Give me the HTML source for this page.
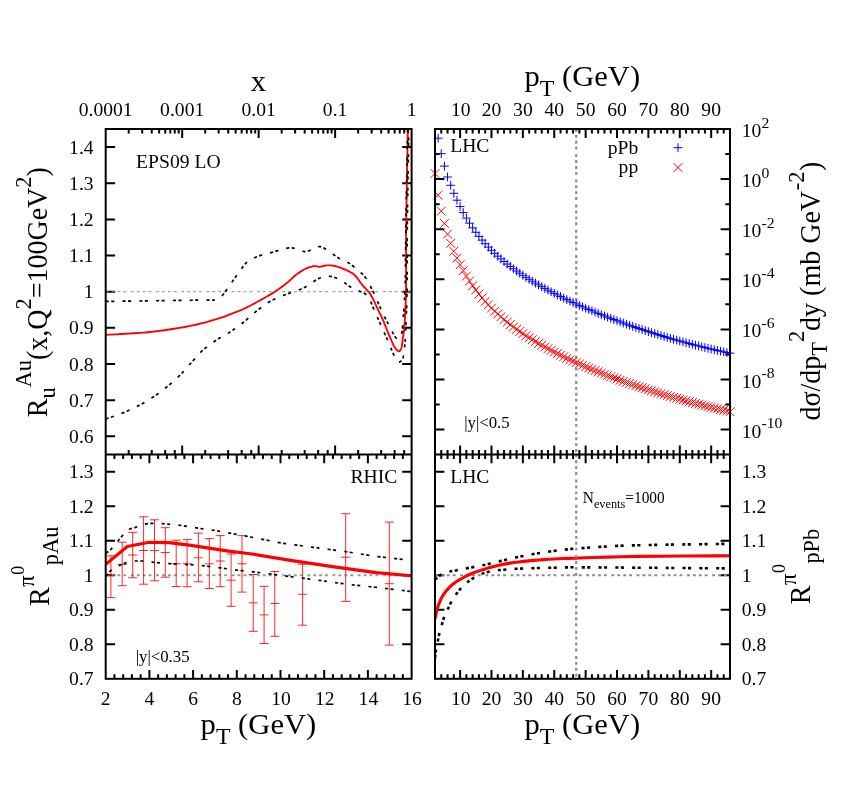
<!DOCTYPE html>
<html><head><meta charset="utf-8"><title>figure</title>
<style>html,body{margin:0;padding:0;background:#fff}body{width:847px;height:808px;overflow:hidden;position:relative;font-family:"Liberation Serif",serif}</style></head>
<body>
<svg width="847" height="808" viewBox="0 0 847 808" style="position:absolute;left:0;top:0;will-change:transform" font-family="Liberation Serif, serif">
<rect width="847" height="808" fill="#fff"/>
<defs>
<clipPath id="cTL"><rect x="105.7" y="129.0" width="305.90000000000003" height="325.4"/></clipPath>
<clipPath id="cTR"><rect x="435.0" y="129.0" width="295.0" height="325.4"/></clipPath>
<clipPath id="cBL"><rect x="105.7" y="454.4" width="305.90000000000003" height="224.39999999999998"/></clipPath>
<clipPath id="cBR"><rect x="435.0" y="454.4" width="295.0" height="224.39999999999998"/></clipPath>
</defs>
<path d="M128.72,129.00v4.50M128.72,454.40v-4.50M142.19,129.00v4.50M151.74,129.00v4.50M151.74,454.40v-4.50M159.15,129.00v4.50M165.21,129.00v4.50M165.21,454.40v-4.50M170.33,129.00v4.50M174.76,129.00v4.50M174.76,454.40v-4.50M178.68,129.00v4.50M182.18,129.00v8.90M182.18,454.40v-8.90M205.20,129.00v4.50M205.20,454.40v-4.50M218.66,129.00v4.50M228.22,129.00v4.50M228.22,454.40v-4.50M235.63,129.00v4.50M241.68,129.00v4.50M241.68,454.40v-4.50M246.80,129.00v4.50M251.24,129.00v4.50M251.24,454.40v-4.50M255.15,129.00v4.50M258.65,129.00v8.90M258.65,454.40v-8.90M281.67,129.00v4.50M281.67,454.40v-4.50M295.14,129.00v4.50M304.69,129.00v4.50M304.69,454.40v-4.50M312.10,129.00v4.50M318.16,129.00v4.50M318.16,454.40v-4.50M323.28,129.00v4.50M327.71,129.00v4.50M327.71,454.40v-4.50M331.63,129.00v4.50M335.12,129.00v8.90M335.12,454.40v-8.90M358.15,129.00v4.50M358.15,454.40v-4.50M371.61,129.00v4.50M381.17,129.00v4.50M381.17,454.40v-4.50M388.58,129.00v4.50M394.63,129.00v4.50M394.63,454.40v-4.50M399.75,129.00v4.50M404.19,129.00v4.50M404.19,454.40v-4.50M408.10,129.00v4.50M105.70,436.32h9.40M411.60,436.32h-9.40M105.70,400.17h9.40M411.60,400.17h-9.40M105.70,364.01h9.40M411.60,364.01h-9.40M105.70,327.86h9.40M411.60,327.86h-9.40M105.70,291.70h9.40M411.60,291.70h-9.40M105.70,255.54h9.40M411.60,255.54h-9.40M105.70,219.39h9.40M411.60,219.39h-9.40M105.70,183.23h9.40M411.60,183.23h-9.40M105.70,147.08h9.40M411.60,147.08h-9.40M441.28,129.00v4.50M441.28,454.40v-4.50M441.28,454.40v4.50M441.28,678.80v-4.50M447.55,129.00v4.50M447.55,454.40v-4.50M447.55,454.40v4.50M447.55,678.80v-4.50M453.83,129.00v4.50M453.83,454.40v-4.50M453.83,454.40v4.50M453.83,678.80v-4.50M460.11,129.00v8.90M460.11,454.40v-8.90M460.11,454.40v8.90M460.11,678.80v-8.90M466.38,129.00v4.50M466.38,454.40v-4.50M466.38,454.40v4.50M466.38,678.80v-4.50M472.66,129.00v4.50M472.66,454.40v-4.50M472.66,454.40v4.50M472.66,678.80v-4.50M478.94,129.00v4.50M478.94,454.40v-4.50M478.94,454.40v4.50M478.94,678.80v-4.50M485.21,129.00v4.50M485.21,454.40v-4.50M485.21,454.40v4.50M485.21,678.80v-4.50M491.49,129.00v8.90M491.49,454.40v-8.90M491.49,454.40v8.90M491.49,678.80v-8.90M497.77,129.00v4.50M497.77,454.40v-4.50M497.77,454.40v4.50M497.77,678.80v-4.50M504.04,129.00v4.50M504.04,454.40v-4.50M504.04,454.40v4.50M504.04,678.80v-4.50M510.32,129.00v4.50M510.32,454.40v-4.50M510.32,454.40v4.50M510.32,678.80v-4.50M516.60,129.00v4.50M516.60,454.40v-4.50M516.60,454.40v4.50M516.60,678.80v-4.50M522.87,129.00v8.90M522.87,454.40v-8.90M522.87,454.40v8.90M522.87,678.80v-8.90M529.15,129.00v4.50M529.15,454.40v-4.50M529.15,454.40v4.50M529.15,678.80v-4.50M535.43,129.00v4.50M535.43,454.40v-4.50M535.43,454.40v4.50M535.43,678.80v-4.50M541.70,129.00v4.50M541.70,454.40v-4.50M541.70,454.40v4.50M541.70,678.80v-4.50M547.98,129.00v4.50M547.98,454.40v-4.50M547.98,454.40v4.50M547.98,678.80v-4.50M554.26,129.00v8.90M554.26,454.40v-8.90M554.26,454.40v8.90M554.26,678.80v-8.90M560.53,129.00v4.50M560.53,454.40v-4.50M560.53,454.40v4.50M560.53,678.80v-4.50M566.81,129.00v4.50M566.81,454.40v-4.50M566.81,454.40v4.50M566.81,678.80v-4.50M573.09,129.00v4.50M573.09,454.40v-4.50M573.09,454.40v4.50M573.09,678.80v-4.50M579.36,129.00v4.50M579.36,454.40v-4.50M579.36,454.40v4.50M579.36,678.80v-4.50M585.64,129.00v8.90M585.64,454.40v-8.90M585.64,454.40v8.90M585.64,678.80v-8.90M591.91,129.00v4.50M591.91,454.40v-4.50M591.91,454.40v4.50M591.91,678.80v-4.50M598.19,129.00v4.50M598.19,454.40v-4.50M598.19,454.40v4.50M598.19,678.80v-4.50M604.47,129.00v4.50M604.47,454.40v-4.50M604.47,454.40v4.50M604.47,678.80v-4.50M610.74,129.00v4.50M610.74,454.40v-4.50M610.74,454.40v4.50M610.74,678.80v-4.50M617.02,129.00v8.90M617.02,454.40v-8.90M617.02,454.40v8.90M617.02,678.80v-8.90M623.30,129.00v4.50M623.30,454.40v-4.50M623.30,454.40v4.50M623.30,678.80v-4.50M629.57,129.00v4.50M629.57,454.40v-4.50M629.57,454.40v4.50M629.57,678.80v-4.50M635.85,129.00v4.50M635.85,454.40v-4.50M635.85,454.40v4.50M635.85,678.80v-4.50M642.13,129.00v4.50M642.13,454.40v-4.50M642.13,454.40v4.50M642.13,678.80v-4.50M648.40,129.00v8.90M648.40,454.40v-8.90M648.40,454.40v8.90M648.40,678.80v-8.90M654.68,129.00v4.50M654.68,454.40v-4.50M654.68,454.40v4.50M654.68,678.80v-4.50M660.96,129.00v4.50M660.96,454.40v-4.50M660.96,454.40v4.50M660.96,678.80v-4.50M667.23,129.00v4.50M667.23,454.40v-4.50M667.23,454.40v4.50M667.23,678.80v-4.50M673.51,129.00v4.50M673.51,454.40v-4.50M673.51,454.40v4.50M673.51,678.80v-4.50M679.79,129.00v8.90M679.79,454.40v-8.90M679.79,454.40v8.90M679.79,678.80v-8.90M686.06,129.00v4.50M686.06,454.40v-4.50M686.06,454.40v4.50M686.06,678.80v-4.50M692.34,129.00v4.50M692.34,454.40v-4.50M692.34,454.40v4.50M692.34,678.80v-4.50M698.62,129.00v4.50M698.62,454.40v-4.50M698.62,454.40v4.50M698.62,678.80v-4.50M704.89,129.00v4.50M704.89,454.40v-4.50M704.89,454.40v4.50M704.89,678.80v-4.50M711.17,129.00v8.90M711.17,454.40v-8.90M711.17,454.40v8.90M711.17,678.80v-8.90M717.45,129.00v4.50M717.45,454.40v-4.50M717.45,454.40v4.50M717.45,678.80v-4.50M723.72,129.00v4.50M723.72,454.40v-4.50M723.72,454.40v4.50M723.72,678.80v-4.50M730.00,129.00v4.50M730.00,454.40v-4.50M730.00,454.40v4.50M730.00,678.80v-4.50M435.00,154.05h4.70M730.00,154.05h-4.70M435.00,179.10h9.40M730.00,179.10h-9.40M435.00,204.15h4.70M730.00,204.15h-4.70M435.00,229.20h9.40M730.00,229.20h-9.40M435.00,254.25h4.70M730.00,254.25h-4.70M435.00,279.30h9.40M730.00,279.30h-9.40M435.00,304.35h4.70M730.00,304.35h-4.70M435.00,329.40h9.40M730.00,329.40h-9.40M435.00,354.45h4.70M730.00,354.45h-4.70M435.00,379.50h9.40M730.00,379.50h-9.40M435.00,404.55h4.70M730.00,404.55h-4.70M435.00,429.60h9.40M730.00,429.60h-9.40M114.44,454.40v4.50M114.44,678.80v-4.50M123.18,454.40v4.50M123.18,678.80v-4.50M131.92,454.40v4.50M131.92,678.80v-4.50M140.66,454.40v4.50M140.66,678.80v-4.50M149.40,454.40v8.90M149.40,678.80v-8.90M158.14,454.40v4.50M158.14,678.80v-4.50M166.88,454.40v4.50M166.88,678.80v-4.50M175.62,454.40v4.50M175.62,678.80v-4.50M184.36,454.40v4.50M184.36,678.80v-4.50M193.10,454.40v8.90M193.10,678.80v-8.90M201.84,454.40v4.50M201.84,678.80v-4.50M210.58,454.40v4.50M210.58,678.80v-4.50M219.32,454.40v4.50M219.32,678.80v-4.50M228.06,454.40v4.50M228.06,678.80v-4.50M236.80,454.40v8.90M236.80,678.80v-8.90M245.54,454.40v4.50M245.54,678.80v-4.50M254.28,454.40v4.50M254.28,678.80v-4.50M263.02,454.40v4.50M263.02,678.80v-4.50M271.76,454.40v4.50M271.76,678.80v-4.50M280.50,454.40v8.90M280.50,678.80v-8.90M289.24,454.40v4.50M289.24,678.80v-4.50M297.98,454.40v4.50M297.98,678.80v-4.50M306.72,454.40v4.50M306.72,678.80v-4.50M315.46,454.40v4.50M315.46,678.80v-4.50M324.20,454.40v8.90M324.20,678.80v-8.90M332.94,454.40v4.50M332.94,678.80v-4.50M341.68,454.40v4.50M341.68,678.80v-4.50M350.42,454.40v4.50M350.42,678.80v-4.50M359.16,454.40v4.50M359.16,678.80v-4.50M367.90,454.40v8.90M367.90,678.80v-8.90M376.64,454.40v4.50M376.64,678.80v-4.50M385.38,454.40v4.50M385.38,678.80v-4.50M394.12,454.40v4.50M394.12,678.80v-4.50M402.86,454.40v4.50M402.86,678.80v-4.50M105.70,644.28h9.40M411.60,644.28h-9.40M435.00,644.28h9.40M730.00,644.28h-9.40M105.70,609.75h9.40M411.60,609.75h-9.40M435.00,609.75h9.40M730.00,609.75h-9.40M105.70,575.23h9.40M411.60,575.23h-9.40M435.00,575.23h9.40M730.00,575.23h-9.40M105.70,540.71h9.40M411.60,540.71h-9.40M435.00,540.71h9.40M730.00,540.71h-9.40M105.70,506.18h9.40M411.60,506.18h-9.40M435.00,506.18h9.40M730.00,506.18h-9.40M105.70,471.66h9.40M411.60,471.66h-9.40M435.00,471.66h9.40M730.00,471.66h-9.40" stroke="#000" stroke-width="2.0" fill="none"/>
<g clip-path="url(#cTL)">
<line x1="105.70" y1="291.70" x2="411.60" y2="291.70" stroke="#8c8c8c" stroke-width="1" stroke-dasharray="2.9 3.0 2.9 3.0 2.9 3.0 2.9 4.6"/>
<path d="M105.70,334.90 L109.55,334.68 L115.01,334.38 L121.41,334.02 L128.09,333.64 L134.37,333.26 L139.60,332.90 L143.72,332.58 L147.24,332.27 L150.38,331.96 L153.32,331.64 L156.26,331.29 L159.40,330.90 L162.70,330.47 L166.00,330.01 L169.30,329.52 L172.60,329.00 L175.90,328.46 L179.20,327.90 L182.50,327.32 L185.80,326.73 L189.10,326.11 L192.40,325.46 L195.70,324.76 L199.00,324.00 L202.30,323.18 L205.60,322.32 L208.90,321.41 L212.20,320.46 L215.50,319.45 L218.80,318.40 L222.20,317.26 L225.71,316.02 L229.23,314.73 L232.62,313.45 L235.79,312.22 L238.60,311.10 L240.97,310.12 L242.98,309.24 L244.75,308.43 L246.42,307.61 L248.13,306.75 L250.00,305.80 L252.03,304.75 L254.11,303.64 L256.23,302.48 L258.36,301.30 L260.49,300.10 L262.60,298.90 L264.70,297.72 L266.80,296.54 L268.89,295.36 L270.99,294.13 L273.09,292.85 L275.20,291.50 L277.36,290.02 L279.60,288.44 L281.83,286.79 L284.00,285.15 L286.05,283.57 L287.90,282.10 L289.50,280.74 L290.90,279.46 L292.17,278.23 L293.40,277.04 L294.65,275.91 L296.00,274.80 L297.49,273.71 L299.06,272.63 L300.65,271.59 L302.22,270.63 L303.72,269.75 L305.10,269.00 L306.36,268.38 L307.56,267.88 L308.68,267.47 L309.72,267.13 L310.70,266.85 L311.60,266.60 L312.40,266.39 L313.09,266.25 L313.71,266.16 L314.30,266.11 L314.88,266.09 L315.50,266.10 L316.15,266.16 L316.80,266.30 L317.46,266.47 L318.11,266.63 L318.76,266.76 L319.40,266.80 L320.02,266.75 L320.62,266.64 L321.22,266.49 L321.83,266.31 L322.49,266.14 L323.20,266.00 L323.97,265.86 L324.78,265.71 L325.63,265.56 L326.52,265.43 L327.44,265.33 L328.40,265.30 L329.39,265.31 L330.42,265.36 L331.49,265.44 L332.59,265.57 L333.73,265.76 L334.90,266.00 L336.12,266.31 L337.40,266.69 L338.72,267.12 L340.05,267.59 L341.38,268.09 L342.70,268.60 L344.03,269.14 L345.40,269.71 L346.76,270.32 L348.09,270.94 L349.35,271.57 L350.50,272.20 L351.52,272.80 L352.43,273.36 L353.26,273.93 L354.06,274.55 L354.86,275.26 L355.70,276.10 L356.57,277.11 L357.43,278.27 L358.30,279.53 L359.17,280.80 L360.03,282.05 L360.90,283.20 L361.78,284.27 L362.68,285.31 L363.58,286.31 L364.46,287.28 L365.31,288.21 L366.10,289.10 L366.83,289.90 L367.50,290.60 L368.13,291.27 L368.75,291.95 L369.37,292.71 L370.00,293.60 L370.65,294.63 L371.30,295.76 L371.95,296.96 L372.60,298.21 L373.25,299.50 L373.90,300.80 L374.54,302.12 L375.17,303.46 L375.80,304.84 L376.44,306.26 L377.10,307.71 L377.80,309.20 L378.52,310.67 L379.24,312.11 L379.99,313.59 L380.78,315.17 L381.61,316.92 L382.50,318.90 L383.48,321.23 L384.55,323.87 L385.67,326.69 L386.79,329.53 L387.88,332.24 L388.90,334.70 L389.86,336.95 L390.80,339.12 L391.70,341.17 L392.56,343.07 L393.36,344.76 L394.10,346.20 L394.76,347.36 L395.36,348.26 L395.91,348.96 L396.40,349.51 L396.87,349.98 L397.30,350.40 L397.70,350.77 L398.05,351.04 L398.36,351.22 L398.65,351.31 L398.93,351.34 L399.20,351.30 L399.47,351.18 L399.71,350.96 L399.95,350.68 L400.17,350.34 L400.39,349.97 L400.60,349.60 L400.80,349.28 L400.99,349.00 L401.16,348.69 L401.34,348.28 L401.51,347.71 L401.70,346.90 L401.89,345.80 L402.09,344.44 L402.29,342.92 L402.50,341.32 L402.70,339.72 L402.90,338.20 L403.10,336.79 L403.31,335.43 L403.52,334.07 L403.72,332.67 L403.92,331.16 L404.10,329.50 L404.27,327.66 L404.43,325.67 L404.59,323.58 L404.73,321.44 L404.87,319.30 L405.00,317.20 L405.12,315.14 L405.23,313.07 L405.33,311.01 L405.43,308.94 L405.52,306.87 L405.60,304.80 L405.68,302.73 L405.76,300.67 L405.83,298.60 L405.90,296.53 L405.95,294.47 L406.00,292.40 L406.03,290.83 L406.06,289.84 L406.07,288.86 L406.08,287.29 L406.09,284.53 L406.10,280.00 L406.10,273.77 L406.08,266.34 L406.06,257.73 L406.06,247.95 L406.10,237.03 L406.20,225.00 L406.40,210.37 L406.67,192.81 L406.99,174.12 L407.31,156.07 L407.60,140.44 L407.80,129.00 L407.92,122.36 L407.98,119.22 L408.00,118.50 L408.00,119.11 L407.99,119.97 L408.00,120.00" fill="none" stroke="#ff0000" stroke-width="1.85" stroke-linejoin="round"/>
<path d="M105.70,301.40 L111.73,301.33 L120.35,301.24 L130.22,301.12 L140.00,301.00 L149.72,300.86 L159.96,300.70 L170.23,300.54 L180.00,300.40 L189.90,300.28 L199.95,300.16 L208.75,300.07 L214.90,300.00 L216.50,299.90 L217.04,299.58 L217.77,299.22 L218.64,298.75 L219.62,298.13 L220.69,297.29 L221.80,296.20 L223.00,294.77 L224.33,293.03 L225.73,291.09 L227.17,289.03 L228.61,286.97 L230.00,285.00 L231.34,283.09 L232.66,281.17 L233.98,279.23 L235.30,277.30 L236.64,275.39 L238.00,273.50 L239.40,271.58 L240.83,269.59 L242.27,267.62 L243.71,265.74 L245.12,264.05 L246.50,262.60 L247.85,261.44 L249.20,260.52 L250.52,259.77 L251.80,259.14 L253.04,258.57 L254.20,258.00 L255.22,257.48 L256.08,257.06 L256.89,256.70 L257.75,256.36 L258.75,256.01 L260.00,255.60 L261.49,255.15 L263.14,254.69 L264.94,254.21 L266.86,253.71 L268.89,253.18 L271.00,252.60 L273.35,251.93 L275.97,251.16 L278.69,250.35 L281.36,249.58 L283.78,248.91 L285.80,248.40 L287.32,248.05 L288.45,247.81 L289.35,247.67 L290.16,247.62 L291.03,247.67 L292.10,247.80 L293.40,248.08 L294.82,248.51 L296.30,249.04 L297.78,249.60 L299.20,250.10 L300.50,250.50 L301.65,250.83 L302.68,251.17 L303.65,251.46 L304.62,251.66 L305.65,251.72 L306.80,251.60 L308.11,251.22 L309.56,250.60 L311.06,249.84 L312.55,249.05 L313.96,248.33 L315.20,247.80 L316.24,247.40 L317.12,247.05 L317.92,246.78 L318.70,246.60 L319.54,246.57 L320.50,246.70 L321.56,247.01 L322.66,247.47 L323.82,248.07 L325.05,248.79 L326.37,249.60 L327.80,250.50 L329.38,251.55 L331.09,252.78 L332.90,254.11 L334.75,255.46 L336.60,256.75 L338.40,257.90 L340.16,258.86 L341.91,259.68 L343.66,260.44 L345.40,261.21 L347.15,262.07 L348.90,263.10 L350.70,264.34 L352.56,265.74 L354.41,267.23 L356.21,268.73 L357.89,270.18 L359.40,271.50 L360.67,272.57 L361.73,273.44 L362.68,274.24 L363.60,275.15 L364.58,276.32 L365.70,277.90 L366.98,279.94 L368.34,282.32 L369.77,284.96 L371.22,287.78 L372.68,290.68 L374.10,293.60 L375.50,296.60 L376.90,299.77 L378.29,303.03 L379.69,306.31 L381.09,309.52 L382.50,312.60 L383.96,315.64 L385.49,318.72 L387.02,321.74 L388.50,324.60 L389.84,327.19 L391.00,329.40 L391.95,331.21 L392.75,332.68 L393.42,333.89 L394.00,334.89 L394.51,335.74 L395.00,336.50 L395.41,337.13 L395.70,337.56 L395.94,337.84 L396.16,338.02 L396.43,338.16 L396.80,338.30 L397.30,338.46 L397.90,338.59 L398.54,338.67 L399.17,338.69 L399.74,338.61 L400.20,338.40 L400.53,338.06 L400.77,337.60 L400.96,337.05 L401.10,336.42 L401.24,335.73 L401.40,335.00 L401.57,334.29 L401.72,333.58 L401.86,332.82 L402.00,331.93 L402.15,330.85 L402.30,329.50 L402.46,327.82 L402.63,325.83 L402.80,323.66 L402.97,321.39 L403.14,319.14 L403.30,317.00 L403.46,314.98 L403.62,312.99 L403.77,311.01 L403.93,309.03 L404.07,307.03 L404.20,305.00 L404.32,302.93 L404.43,300.84 L404.52,298.73 L404.62,296.61 L404.71,294.50 L404.80,292.40 L404.89,290.81 L404.97,289.83 L405.05,288.85 L405.13,287.28 L405.21,284.53 L405.30,280.00 L405.38,273.77 L405.45,266.34 L405.52,257.73 L405.61,247.95 L405.74,237.03 L405.90,225.00 L406.14,210.37 L406.44,192.81 L406.77,174.12 L407.10,156.07 L407.39,140.44 L407.60,129.00 L407.72,122.36 L407.79,119.22 L407.81,118.50 L407.80,119.11 L407.80,119.97 L407.80,120.00" fill="none" stroke="#000" stroke-width="1.7" stroke-dasharray="3.1 2.4 3.1 8.2"/>
<path d="M105.70,419.00 L107.73,418.29 L110.56,417.33 L113.89,416.18 L117.46,414.92 L120.95,413.63 L124.10,412.40 L126.93,411.21 L129.70,409.99 L132.39,408.74 L135.04,407.46 L137.64,406.15 L140.20,404.80 L142.73,403.41 L145.21,401.99 L147.65,400.53 L150.04,399.04 L152.39,397.53 L154.70,396.00 L156.94,394.46 L159.12,392.90 L161.25,391.32 L163.36,389.71 L165.47,388.04 L167.60,386.30 L169.77,384.49 L171.96,382.61 L174.16,380.68 L176.33,378.70 L178.45,376.71 L180.50,374.70 L182.46,372.66 L184.36,370.59 L186.20,368.48 L188.02,366.37 L189.85,364.27 L191.70,362.20 L193.56,360.13 L195.40,358.04 L197.25,355.97 L199.12,353.93 L201.03,351.97 L203.00,350.10 L205.03,348.34 L207.10,346.67 L209.22,345.08 L211.37,343.53 L213.57,342.01 L215.80,340.50 L218.10,339.03 L220.49,337.60 L222.91,336.21 L225.33,334.83 L227.71,333.43 L230.00,332.00 L232.20,330.54 L234.36,329.07 L236.46,327.59 L238.53,326.09 L240.58,324.56 L242.60,323.00 L244.56,321.40 L246.43,319.77 L248.27,318.12 L250.14,316.44 L252.10,314.73 L254.20,313.00 L256.47,311.19 L258.87,309.28 L261.35,307.35 L263.88,305.46 L266.41,303.69 L268.90,302.10 L271.31,300.73 L273.67,299.53 L276.04,298.45 L278.46,297.42 L280.99,296.39 L283.70,295.30 L286.73,294.14 L290.09,292.95 L293.55,291.76 L296.93,290.59 L300.01,289.46 L302.60,288.40 L304.58,287.43 L306.10,286.54 L307.33,285.69 L308.43,284.85 L309.60,284.00 L311.00,283.10 L312.68,282.09 L314.50,281.00 L316.38,279.88 L318.23,278.83 L319.97,277.91 L321.50,277.20 L322.79,276.73 L323.91,276.43 L324.91,276.27 L325.85,276.20 L326.79,276.19 L327.80,276.20 L328.84,276.21 L329.85,276.27 L330.87,276.37 L331.91,276.56 L333.02,276.82 L334.20,277.20 L335.48,277.70 L336.85,278.30 L338.27,278.99 L339.73,279.76 L341.18,280.56 L342.60,281.40 L344.00,282.31 L345.40,283.32 L346.80,284.37 L348.20,285.43 L349.60,286.42 L351.00,287.30 L352.40,288.04 L353.80,288.66 L355.20,289.23 L356.60,289.79 L358.00,290.40 L359.40,291.10 L360.80,291.76 L362.20,292.31 L363.60,292.90 L365.00,293.69 L366.40,294.84 L367.80,296.50 L369.20,298.78 L370.60,301.59 L371.99,304.76 L373.39,308.11 L374.79,311.48 L376.20,314.70 L377.64,317.86 L379.11,321.10 L380.58,324.37 L382.03,327.59 L383.41,330.68 L384.70,333.60 L385.90,336.36 L387.05,339.01 L388.13,341.56 L389.15,343.96 L390.11,346.22 L391.00,348.30 L391.81,350.21 L392.54,351.96 L393.21,353.56 L393.83,355.01 L394.42,356.32 L395.00,357.50 L395.56,358.54 L396.09,359.43 L396.59,360.18 L397.07,360.80 L397.54,361.31 L398.00,361.70 L398.45,361.97 L398.87,362.11 L399.29,362.14 L399.69,362.05 L400.09,361.87 L400.50,361.60 L400.92,361.23 L401.35,360.76 L401.78,360.18 L402.19,359.52 L402.57,358.79 L402.90,358.00 L403.17,357.20 L403.39,356.40 L403.57,355.53 L403.74,354.51 L403.91,353.29 L404.10,351.80 L404.32,350.00 L404.55,347.95 L404.79,345.69 L405.01,343.28 L405.22,340.77 L405.40,338.20 L405.54,335.47 L405.65,332.53 L405.74,329.47 L405.83,326.44 L405.91,323.54 L406.00,320.90 L406.10,318.60 L406.21,316.56 L406.31,314.65 L406.41,312.76 L406.51,310.75 L406.60,308.50 L406.68,305.94 L406.76,303.14 L406.83,300.23 L406.89,297.32 L406.95,294.54 L407.00,292.00 L407.05,290.24 L407.09,289.26 L407.12,288.41 L407.15,287.02 L407.17,284.44 L407.20,280.00 L407.21,273.80 L407.19,266.37 L407.17,257.75 L407.17,247.96 L407.20,237.04 L407.30,225.00 L407.48,210.37 L407.74,192.81 L408.04,174.12 L408.34,156.07 L408.61,140.44 L408.80,129.00 L408.91,122.36 L408.97,119.22 L408.99,118.50 L409.00,119.11 L408.99,119.97 L409.00,120.00" fill="none" stroke="#000" stroke-width="1.7" stroke-dasharray="3.1 2.4 3.1 8.2"/>
</g>
<g>
<line x1="576.22" y1="129.00" x2="576.22" y2="454.40" stroke="#8c8c8c" stroke-width="2.2" stroke-dasharray="2.9 3.0 2.9 3.0 2.9 3.0 2.9 4.6"/>
</g>
<path d="M433.74,138.20h8.8M438.14,133.80v8.8M436.88,153.70h8.8M441.28,149.30v8.8M440.01,166.10h8.8M444.41,161.70v8.8M443.15,177.00h8.8M447.55,172.60v8.8M446.29,185.30h8.8M450.69,180.90v8.8M449.43,193.30h8.8M453.83,188.90v8.8M452.57,200.20h8.8M456.97,195.80v8.8M455.71,206.57h8.8M460.11,202.17v8.8M458.84,212.58h8.8M463.24,208.18v8.8M461.98,218.09h8.8M466.38,213.69v8.8M465.12,223.18h8.8M469.52,218.78v8.8M468.26,227.89h8.8M472.66,223.49v8.8M471.40,232.26h8.8M475.80,227.86v8.8M474.54,236.33h8.8M478.94,231.93v8.8M477.67,240.14h8.8M482.07,235.74v8.8M480.81,243.72h8.8M485.21,239.32v8.8M483.95,247.10h8.8M488.35,242.70v8.8M487.09,250.28h8.8M491.49,245.88v8.8M490.23,253.30h8.8M494.63,248.90v8.8M493.37,256.18h8.8M497.77,251.78v8.8M496.50,258.92h8.8M500.90,254.52v8.8M499.64,261.54h8.8M504.04,257.14v8.8M502.78,264.05h8.8M507.18,259.65v8.8M505.92,266.46h8.8M510.32,262.06v8.8M509.06,268.78h8.8M513.46,264.38v8.8M512.20,271.02h8.8M516.60,266.62v8.8M515.33,273.18h8.8M519.73,268.78v8.8M518.47,275.28h8.8M522.87,270.88v8.8M521.61,277.31h8.8M526.01,272.91v8.8M524.75,279.28h8.8M529.15,274.88v8.8M527.89,281.20h8.8M532.29,276.80v8.8M531.03,283.07h8.8M535.43,278.67v8.8M534.16,284.89h8.8M538.56,280.49v8.8M537.30,286.67h8.8M541.70,282.27v8.8M540.44,288.40h8.8M544.84,284.00v8.8M543.58,290.10h8.8M547.98,285.70v8.8M546.72,291.77h8.8M551.12,287.37v8.8M549.86,293.39h8.8M554.26,288.99v8.8M552.99,294.99h8.8M557.39,290.59v8.8M556.13,296.56h8.8M560.53,292.16v8.8M559.27,298.09h8.8M563.67,293.69v8.8M562.41,299.60h8.8M566.81,295.20v8.8M565.55,301.09h8.8M569.95,296.69v8.8M568.69,302.55h8.8M573.09,298.15v8.8M571.82,303.98h8.8M576.22,299.58v8.8M574.96,305.39h8.8M579.36,300.99v8.8M578.10,306.78h8.8M582.50,302.38v8.8M581.24,308.14h8.8M585.64,303.74v8.8M584.38,309.49h8.8M588.78,305.09v8.8M587.51,310.81h8.8M591.91,306.41v8.8M590.65,312.12h8.8M595.05,307.72v8.8M593.79,313.40h8.8M598.19,309.00v8.8M596.93,314.67h8.8M601.33,310.27v8.8M600.07,315.92h8.8M604.47,311.52v8.8M603.21,317.15h8.8M607.61,312.75v8.8M606.34,318.36h8.8M610.74,313.96v8.8M609.48,319.56h8.8M613.88,315.16v8.8M612.62,320.73h8.8M617.02,316.33v8.8M615.76,321.90h8.8M620.16,317.50v8.8M618.90,323.04h8.8M623.30,318.64v8.8M622.04,324.17h8.8M626.44,319.77v8.8M625.17,325.28h8.8M629.57,320.88v8.8M628.31,326.38h8.8M632.71,321.98v8.8M631.45,327.46h8.8M635.85,323.06v8.8M634.59,328.52h8.8M638.99,324.12v8.8M637.73,329.57h8.8M642.13,325.17v8.8M640.87,330.61h8.8M645.27,326.21v8.8M644.00,331.63h8.8M648.40,327.23v8.8M647.14,332.64h8.8M651.54,328.24v8.8M650.28,333.63h8.8M654.68,329.23v8.8M653.42,334.60h8.8M657.82,330.20v8.8M656.56,335.56h8.8M660.96,331.16v8.8M659.70,336.51h8.8M664.10,332.11v8.8M662.83,337.44h8.8M667.23,333.04v8.8M665.97,338.36h8.8M670.37,333.96v8.8M669.11,339.27h8.8M673.51,334.87v8.8M672.25,340.16h8.8M676.65,335.76v8.8M675.39,341.03h8.8M679.79,336.63v8.8M678.53,341.89h8.8M682.93,337.49v8.8M681.66,342.74h8.8M686.06,338.34v8.8M684.80,343.58h8.8M689.20,339.18v8.8M687.94,344.40h8.8M692.34,340.00v8.8M691.08,345.20h8.8M695.48,340.80v8.8M694.22,346.00h8.8M698.62,341.60v8.8M697.36,346.78h8.8M701.76,342.38v8.8M700.49,347.54h8.8M704.89,343.14v8.8M703.63,348.29h8.8M708.03,343.89v8.8M706.77,349.03h8.8M711.17,344.63v8.8M709.91,349.76h8.8M714.31,345.36v8.8M713.05,350.47h8.8M717.45,346.07v8.8M716.19,351.17h8.8M720.59,346.77v8.8M719.32,351.85h8.8M723.72,347.45v8.8M722.46,352.53h8.8M726.86,348.13v8.8M725.60,353.19h8.8M730.00,348.79v8.8" stroke="#0000ff" stroke-width="1" fill="none"/>
<path d="M430.60,169.10l8.8,8.8M430.60,177.90l8.8,-8.8M433.74,190.80l8.8,8.8M433.74,199.60l8.8,-8.8M436.88,206.70l8.8,8.8M436.88,215.50l8.8,-8.8M440.01,219.00l8.8,8.8M440.01,227.80l8.8,-8.8M443.15,229.70l8.8,8.8M443.15,238.50l8.8,-8.8M446.29,239.00l8.8,8.8M446.29,247.80l8.8,-8.8M449.43,246.90l8.8,8.8M449.43,255.70l8.8,-8.8M452.57,253.73l8.8,8.8M452.57,262.53l8.8,-8.8M455.71,260.32l8.8,8.8M455.71,269.12l8.8,-8.8M458.84,266.28l8.8,8.8M458.84,275.08l8.8,-8.8M461.98,271.71l8.8,8.8M461.98,280.51l8.8,-8.8M465.12,276.69l8.8,8.8M465.12,285.49l8.8,-8.8M468.26,281.29l8.8,8.8M468.26,290.09l8.8,-8.8M471.40,285.56l8.8,8.8M471.40,294.36l8.8,-8.8M474.54,289.64l8.8,8.8M474.54,298.44l8.8,-8.8M477.67,293.47l8.8,8.8M477.67,302.27l8.8,-8.8M480.81,297.07l8.8,8.8M480.81,305.87l8.8,-8.8M483.95,300.48l8.8,8.8M483.95,309.28l8.8,-8.8M487.09,303.70l8.8,8.8M487.09,312.50l8.8,-8.8M490.23,306.77l8.8,8.8M490.23,315.57l8.8,-8.8M493.37,309.69l8.8,8.8M493.37,318.49l8.8,-8.8M496.50,312.48l8.8,8.8M496.50,321.28l8.8,-8.8M499.64,315.15l8.8,8.8M499.64,323.95l8.8,-8.8M502.78,317.72l8.8,8.8M502.78,326.52l8.8,-8.8M505.92,320.19l8.8,8.8M505.92,328.99l8.8,-8.8M509.06,322.56l8.8,8.8M509.06,331.36l8.8,-8.8M512.20,324.86l8.8,8.8M512.20,333.66l8.8,-8.8M515.33,327.07l8.8,8.8M515.33,335.87l8.8,-8.8M518.47,329.22l8.8,8.8M518.47,338.02l8.8,-8.8M521.61,331.29l8.8,8.8M521.61,340.09l8.8,-8.8M524.75,333.31l8.8,8.8M524.75,342.11l8.8,-8.8M527.89,335.27l8.8,8.8M527.89,344.07l8.8,-8.8M531.03,337.17l8.8,8.8M531.03,345.97l8.8,-8.8M534.16,339.03l8.8,8.8M534.16,347.83l8.8,-8.8M537.30,340.83l8.8,8.8M537.30,349.63l8.8,-8.8M540.44,342.59l8.8,8.8M540.44,351.39l8.8,-8.8M543.58,344.31l8.8,8.8M543.58,353.11l8.8,-8.8M546.72,345.99l8.8,8.8M546.72,354.79l8.8,-8.8M549.86,347.63l8.8,8.8M549.86,356.43l8.8,-8.8M552.99,349.23l8.8,8.8M552.99,358.03l8.8,-8.8M556.13,350.80l8.8,8.8M556.13,359.60l8.8,-8.8M559.27,352.34l8.8,8.8M559.27,361.14l8.8,-8.8M562.41,353.84l8.8,8.8M562.41,362.64l8.8,-8.8M565.55,355.32l8.8,8.8M565.55,364.12l8.8,-8.8M568.69,356.76l8.8,8.8M568.69,365.56l8.8,-8.8M571.82,358.18l8.8,8.8M571.82,366.98l8.8,-8.8M574.96,359.57l8.8,8.8M574.96,368.37l8.8,-8.8M578.10,360.94l8.8,8.8M578.10,369.74l8.8,-8.8M581.24,362.28l8.8,8.8M581.24,371.08l8.8,-8.8M584.38,363.59l8.8,8.8M584.38,372.39l8.8,-8.8M587.51,364.89l8.8,8.8M587.51,373.69l8.8,-8.8M590.65,366.16l8.8,8.8M590.65,374.96l8.8,-8.8M593.79,367.41l8.8,8.8M593.79,376.21l8.8,-8.8M596.93,368.64l8.8,8.8M596.93,377.44l8.8,-8.8M600.07,369.88l8.8,8.8M600.07,378.68l8.8,-8.8M603.21,371.10l8.8,8.8M603.21,379.90l8.8,-8.8M606.34,372.30l8.8,8.8M606.34,381.10l8.8,-8.8M609.48,373.48l8.8,8.8M609.48,382.28l8.8,-8.8M612.62,374.65l8.8,8.8M612.62,383.45l8.8,-8.8M615.76,375.80l8.8,8.8M615.76,384.60l8.8,-8.8M618.90,376.93l8.8,8.8M618.90,385.73l8.8,-8.8M622.04,378.04l8.8,8.8M622.04,386.84l8.8,-8.8M625.17,379.14l8.8,8.8M625.17,387.94l8.8,-8.8M628.31,380.22l8.8,8.8M628.31,389.02l8.8,-8.8M631.45,381.28l8.8,8.8M631.45,390.08l8.8,-8.8M634.59,382.34l8.8,8.8M634.59,391.14l8.8,-8.8M637.73,383.37l8.8,8.8M637.73,392.17l8.8,-8.8M640.87,384.39l8.8,8.8M640.87,393.19l8.8,-8.8M644.00,385.40l8.8,8.8M644.00,394.20l8.8,-8.8M647.14,386.40l8.8,8.8M647.14,395.20l8.8,-8.8M650.28,387.38l8.8,8.8M650.28,396.18l8.8,-8.8M653.42,388.34l8.8,8.8M653.42,397.14l8.8,-8.8M656.56,389.30l8.8,8.8M656.56,398.10l8.8,-8.8M659.70,390.24l8.8,8.8M659.70,399.04l8.8,-8.8M662.83,391.17l8.8,8.8M662.83,399.97l8.8,-8.8M665.97,392.08l8.8,8.8M665.97,400.88l8.8,-8.8M669.11,392.99l8.8,8.8M669.11,401.79l8.8,-8.8M672.25,393.88l8.8,8.8M672.25,402.68l8.8,-8.8M675.39,394.76l8.8,8.8M675.39,403.56l8.8,-8.8M678.53,395.63l8.8,8.8M678.53,404.43l8.8,-8.8M681.66,396.49l8.8,8.8M681.66,405.29l8.8,-8.8M684.80,397.33l8.8,8.8M684.80,406.13l8.8,-8.8M687.94,398.17l8.8,8.8M687.94,406.97l8.8,-8.8M691.08,398.99l8.8,8.8M691.08,407.79l8.8,-8.8M694.22,399.81l8.8,8.8M694.22,408.61l8.8,-8.8M697.36,400.61l8.8,8.8M697.36,409.41l8.8,-8.8M700.49,401.40l8.8,8.8M700.49,410.20l8.8,-8.8M703.63,402.18l8.8,8.8M703.63,410.98l8.8,-8.8M706.77,402.96l8.8,8.8M706.77,411.76l8.8,-8.8M709.91,403.72l8.8,8.8M709.91,412.52l8.8,-8.8M713.05,404.47l8.8,8.8M713.05,413.27l8.8,-8.8M716.19,405.21l8.8,8.8M716.19,414.01l8.8,-8.8M719.32,405.95l8.8,8.8M719.32,414.75l8.8,-8.8M722.46,406.67l8.8,8.8M722.46,415.47l8.8,-8.8M725.60,407.38l8.8,8.8M725.60,416.18l8.8,-8.8" stroke="#ff0000" stroke-width="1" fill="none"/>
<path d="M673.6,147.7h8.8M678.0,143.29999999999998v8.8" stroke="#0000ff" stroke-width="1" fill="none"/>
<path d="M673.6,163.1l8.8,8.8M673.6,171.9l8.8,-8.8" stroke="#ff0000" stroke-width="1" fill="none"/>
<g clip-path="url(#cBL)">
<line x1="105.70" y1="575.23" x2="411.60" y2="575.23" stroke="#999" stroke-width="1.9" stroke-dasharray="2.9 3.0 2.9 3.0 2.9 3.0 2.9 4.6"/>
</g>
<path d="M110.90,555.80V597.60M106.40,555.80h9.0M106.40,597.60h9.0M106.40,575.20h9.0M122.20,542.20V585.70M117.70,542.20h9.0M117.70,585.70h9.0M117.70,564.40h9.0M132.70,532.30V577.80M128.20,532.30h9.0M128.20,577.80h9.0M128.20,555.00h9.0M143.60,516.80V584.20M139.10,516.80h9.0M139.10,584.20h9.0M139.10,550.50h9.0M154.50,519.80V580.80M150.00,519.80h9.0M150.00,580.80h9.0M150.00,550.50h9.0M165.30,527.70V577.20M160.80,527.70h9.0M160.80,577.20h9.0M160.80,552.50h9.0M176.20,540.20V586.50M171.70,540.20h9.0M171.70,586.50h9.0M171.70,563.80h9.0M187.10,539.60V586.70M182.60,539.60h9.0M182.60,586.70h9.0M182.60,563.80h9.0M198.40,533.10V581.80M193.90,533.10h9.0M193.90,581.80h9.0M193.90,557.80h9.0M209.30,538.60V588.50M204.80,538.60h9.0M204.80,588.50h9.0M204.80,563.80h9.0M220.20,535.60V586.70M215.70,535.60h9.0M215.70,586.70h9.0M215.70,561.00h9.0M231.10,553.90V606.30M226.60,553.90h9.0M226.60,606.30h9.0M226.60,580.20h9.0M242.00,535.60V592.10M237.50,535.60h9.0M237.50,592.10h9.0M237.50,563.80h9.0M253.20,574.50V631.30M248.70,574.50h9.0M248.70,631.30h9.0M248.70,602.80h9.0M264.10,586.30V643.50M259.60,586.30h9.0M259.60,643.50h9.0M259.60,614.90h9.0M274.80,571.50V636.30M270.30,571.50h9.0M270.30,636.30h9.0M270.30,603.50h9.0M302.60,564.20V625.20M298.10,564.20h9.0M298.10,625.20h9.0M298.10,594.30h9.0M345.70,513.70V601.40M341.20,513.70h9.0M341.20,601.40h9.0M341.20,557.20h9.0M389.30,522.10V645.20M384.80,522.10h9.0M384.80,645.20h9.0M384.80,583.70h9.0" stroke="#ff0000" stroke-width="0.85" fill="none"/>
<g clip-path="url(#cBL)">
<path d="M105.90,553.40 L110.40,550.00 L117.00,542.20 L121.20,537.00 L128.30,529.40 L134.90,527.60 L144.40,524.20 L150.00,523.30 L158.00,523.30 L165.30,523.80 L183.20,525.70 L199.00,528.30 L216.80,530.70 L234.70,534.10 L250.50,537.00 L281.60,543.10 L313.10,547.30 L344.70,551.50 L376.20,556.40 L411.00,560.40" fill="none" stroke="#000" stroke-width="1.7" stroke-dasharray="3.1 2.4 3.1 8.2"/>
<path d="M105.90,576.20 L109.90,571.30 L115.00,567.50 L121.80,564.40 L127.50,562.20 L133.70,561.00 L141.60,561.00 L155.40,562.40 L171.30,563.80 L189.10,564.60 L205.00,565.90 L220.80,567.90 L238.60,570.30 L250.00,571.50 L271.00,574.10 L292.10,576.80 L313.10,579.50 L334.20,582.50 L355.20,585.20 L376.20,587.30 L411.00,591.50" fill="none" stroke="#000" stroke-width="1.7" stroke-dasharray="3.1 2.4 3.1 8.2"/>
<path d="M105.70,564.40 L127.30,546.50 L149.30,542.20 L169.30,542.60 L189.10,545.10 L208.90,548.10 L228.70,551.10 L250.00,553.70 L292.10,560.60 L334.20,566.90 L376.20,572.60 L411.20,575.70" fill="none" stroke="#ff0000" stroke-width="3.1" stroke-linejoin="round"/>
</g>
<g clip-path="url(#cBR)">
<line x1="435.00" y1="575.23" x2="730.00" y2="575.23" stroke="#8c8c8c" stroke-width="2.2" stroke-dasharray="2.9 3.0 2.9 3.0 2.9 3.0 2.9 4.6"/>
<path d="M435.00,579.80 L435.43,579.37 L436.04,578.76 L436.76,578.06 L437.50,577.40 L438.25,576.77 L439.04,576.12 L439.89,575.49 L440.80,574.90 L441.74,574.36 L442.73,573.85 L443.80,573.37 L445.00,572.90 L446.39,572.43 L447.94,571.98 L449.51,571.55 L451.00,571.20 L452.22,570.97 L453.28,570.83 L454.50,570.68 L456.20,570.40 L458.68,569.92 L461.71,569.32 L464.75,568.71 L467.30,568.20 L469.02,567.87 L470.24,567.65 L471.47,567.43 L473.20,567.10 L475.66,566.63 L478.57,566.07 L481.59,565.48 L484.40,564.90 L486.90,564.33 L489.26,563.76 L491.60,563.18 L494.00,562.60 L496.38,562.04 L498.71,561.48 L501.24,560.89 L504.20,560.20 L507.71,559.38 L511.62,558.46 L515.77,557.51 L520.00,556.60 L524.38,555.73 L528.95,554.87 L533.52,554.05 L537.90,553.30 L541.95,552.65 L545.81,552.07 L549.66,551.54 L553.70,551.00 L558.11,550.44 L562.74,549.87 L567.31,549.34 L571.50,548.90 L574.74,548.60 L577.36,548.39 L580.42,548.19 L585.00,547.90 L591.48,547.45 L599.26,546.91 L607.94,546.36 L617.10,545.90 L626.92,545.55 L637.53,545.26 L648.45,545.02 L659.20,544.80 L670.02,544.61 L681.03,544.46 L691.63,544.32 L701.20,544.20 L710.00,544.08 L718.23,543.96 L725.13,543.87 L730.00,543.80" fill="none" stroke="#000" stroke-width="2.6" stroke-dasharray="3.1 2.4 3.1 8.2"/>
<path d="M435.00,658.00 L435.23,656.14 L435.55,653.46 L435.92,650.55 L436.30,648.00 L436.67,646.00 L437.07,644.21 L437.48,642.47 L437.90,640.60 L438.33,638.50 L438.77,636.29 L439.22,634.08 L439.70,632.00 L440.19,630.14 L440.69,628.41 L441.23,626.68 L441.80,624.80 L442.42,622.67 L443.07,620.38 L443.77,618.10 L444.50,616.00 L445.29,614.16 L446.12,612.48 L446.97,610.85 L447.80,609.20 L448.60,607.48 L449.38,605.75 L450.17,604.04 L451.00,602.40 L451.86,600.86 L452.75,599.38 L453.69,597.92 L454.70,596.40 L455.82,594.78 L457.01,593.11 L458.25,591.45 L459.50,589.90 L460.69,588.51 L461.86,587.22 L463.12,585.95 L464.60,584.60 L466.33,583.13 L468.25,581.58 L470.32,580.05 L472.50,578.60 L474.86,577.22 L477.41,575.88 L479.97,574.64 L482.40,573.60 L484.63,572.79 L486.74,572.16 L488.84,571.65 L491.00,571.20 L493.10,570.82 L495.14,570.53 L497.41,570.27 L500.20,570.00 L503.66,569.69 L507.61,569.37 L511.83,569.06 L516.10,568.80 L520.37,568.58 L524.76,568.40 L529.26,568.24 L533.90,568.10 L538.71,567.98 L543.67,567.88 L548.70,567.79 L553.70,567.70 L557.60,567.58 L560.80,567.45 L565.40,567.34 L573.50,567.30 L585.86,567.34 L601.29,567.43 L618.98,567.56 L638.10,567.70 L661.31,567.87 L688.09,568.08 L712.85,568.27 L730.00,568.40" fill="none" stroke="#000" stroke-width="2.6" stroke-dasharray="3.1 2.4 3.1 8.2"/>
<path d="M435.00,619.00 L435.21,617.91 L435.51,616.34 L435.86,614.61 L436.20,613.00 L436.52,611.60 L436.84,610.24 L437.19,608.89 L437.60,607.50 L438.07,606.06 L438.60,604.58 L439.18,603.09 L439.80,601.60 L440.46,600.10 L441.16,598.60 L441.93,597.10 L442.80,595.60 L443.82,594.09 L444.96,592.56 L446.15,591.07 L447.30,589.70 L448.37,588.47 L449.41,587.36 L450.49,586.29 L451.70,585.20 L453.09,584.07 L454.61,582.92 L456.17,581.82 L457.70,580.80 L459.18,579.89 L460.66,579.06 L462.13,578.28 L463.60,577.50 L465.04,576.73 L466.46,575.97 L467.92,575.24 L469.50,574.50 L471.24,573.76 L473.10,573.01 L475.01,572.29 L476.90,571.60 L478.77,570.96 L480.65,570.36 L482.53,569.77 L484.40,569.20 L486.26,568.63 L488.11,568.06 L489.95,567.52 L491.80,567.00 L493.47,566.54 L495.03,566.13 L496.82,565.70 L499.20,565.20 L502.28,564.57 L505.87,563.87 L509.85,563.15 L514.10,562.50 L518.71,561.92 L523.69,561.37 L528.84,560.86 L533.90,560.40 L538.85,559.99 L543.80,559.62 L548.75,559.29 L553.70,559.00 L558.84,558.75 L564.12,558.54 L569.13,558.36 L573.50,558.20 L575.98,558.10 L577.17,558.04 L579.39,557.96 L585.00,557.80 L594.44,557.50 L606.53,557.11 L621.12,556.72 L638.10,556.40 L660.50,556.18 L687.37,556.01 L712.58,555.89 L730.00,555.80" fill="none" stroke="#ff0000" stroke-width="3.1" stroke-linejoin="round"/>
<line x1="576.22" y1="454.40" x2="576.22" y2="678.80" stroke="#8c8c8c" stroke-width="2.2" stroke-dasharray="2.9 3.0 2.9 3.0 2.9 3.0 2.9 4.6"/>
</g>
<g stroke="#000" stroke-width="2.0" fill="none" stroke-linecap="butt">
<rect x="105.7" y="129.0" width="305.90000000000003" height="549.8"/>
<line x1="105.70" y1="454.40" x2="411.60" y2="454.40" />
<rect x="435.0" y="129.0" width="295.0" height="549.8"/>
<line x1="435.00" y1="454.40" x2="730.00" y2="454.40" />
</g>
<text transform="translate(105.70,116.30) scale(1.055,1)" font-size="18.6" text-anchor="middle" fill="#000">0.0001</text>
<text transform="translate(182.18,116.30) scale(1.055,1)" font-size="18.6" text-anchor="middle" fill="#000">0.001</text>
<text transform="translate(258.65,116.30) scale(1.055,1)" font-size="18.6" text-anchor="middle" fill="#000">0.01</text>
<text transform="translate(335.12,116.30) scale(1.055,1)" font-size="18.6" text-anchor="middle" fill="#000">0.1</text>
<text transform="translate(411.60,116.30) scale(1.055,1)" font-size="18.6" text-anchor="middle" fill="#000">1</text>
<text transform="translate(460.81,116.30) scale(1.055,1)" font-size="18.6" text-anchor="middle" fill="#000">10</text>
<text transform="translate(460.81,704.70) scale(1.055,1)" font-size="18.6" text-anchor="middle" fill="#000">10</text>
<text transform="translate(491.49,116.30) scale(1.055,1)" font-size="18.6" text-anchor="middle" fill="#000">20</text>
<text transform="translate(491.49,704.70) scale(1.055,1)" font-size="18.6" text-anchor="middle" fill="#000">20</text>
<text transform="translate(522.87,116.30) scale(1.055,1)" font-size="18.6" text-anchor="middle" fill="#000">30</text>
<text transform="translate(522.87,704.70) scale(1.055,1)" font-size="18.6" text-anchor="middle" fill="#000">30</text>
<text transform="translate(554.26,116.30) scale(1.055,1)" font-size="18.6" text-anchor="middle" fill="#000">40</text>
<text transform="translate(554.26,704.70) scale(1.055,1)" font-size="18.6" text-anchor="middle" fill="#000">40</text>
<text transform="translate(585.64,116.30) scale(1.055,1)" font-size="18.6" text-anchor="middle" fill="#000">50</text>
<text transform="translate(585.64,704.70) scale(1.055,1)" font-size="18.6" text-anchor="middle" fill="#000">50</text>
<text transform="translate(617.02,116.30) scale(1.055,1)" font-size="18.6" text-anchor="middle" fill="#000">60</text>
<text transform="translate(617.02,704.70) scale(1.055,1)" font-size="18.6" text-anchor="middle" fill="#000">60</text>
<text transform="translate(648.40,116.30) scale(1.055,1)" font-size="18.6" text-anchor="middle" fill="#000">70</text>
<text transform="translate(648.40,704.70) scale(1.055,1)" font-size="18.6" text-anchor="middle" fill="#000">70</text>
<text transform="translate(679.79,116.30) scale(1.055,1)" font-size="18.6" text-anchor="middle" fill="#000">80</text>
<text transform="translate(679.79,704.70) scale(1.055,1)" font-size="18.6" text-anchor="middle" fill="#000">80</text>
<text transform="translate(711.17,116.30) scale(1.055,1)" font-size="18.6" text-anchor="middle" fill="#000">90</text>
<text transform="translate(711.17,704.70) scale(1.055,1)" font-size="18.6" text-anchor="middle" fill="#000">90</text>
<text transform="translate(105.70,704.70) scale(1.055,1)" font-size="18.6" text-anchor="middle" fill="#000">2</text>
<text transform="translate(149.40,704.70) scale(1.055,1)" font-size="18.6" text-anchor="middle" fill="#000">4</text>
<text transform="translate(193.10,704.70) scale(1.055,1)" font-size="18.6" text-anchor="middle" fill="#000">6</text>
<text transform="translate(236.80,704.70) scale(1.055,1)" font-size="18.6" text-anchor="middle" fill="#000">8</text>
<text transform="translate(281.00,704.70) scale(1.055,1)" font-size="18.6" text-anchor="middle" fill="#000">10</text>
<text transform="translate(324.70,704.70) scale(1.055,1)" font-size="18.6" text-anchor="middle" fill="#000">12</text>
<text transform="translate(368.40,704.70) scale(1.055,1)" font-size="18.6" text-anchor="middle" fill="#000">14</text>
<text transform="translate(412.10,704.70) scale(1.055,1)" font-size="18.6" text-anchor="middle" fill="#000">16</text>
<text transform="translate(93.60,442.82) scale(1.055,1)" font-size="18.6" text-anchor="end" fill="#000">0.6</text>
<text transform="translate(93.60,406.67) scale(1.055,1)" font-size="18.6" text-anchor="end" fill="#000">0.7</text>
<text transform="translate(93.60,370.51) scale(1.055,1)" font-size="18.6" text-anchor="end" fill="#000">0.8</text>
<text transform="translate(93.60,334.36) scale(1.055,1)" font-size="18.6" text-anchor="end" fill="#000">0.9</text>
<text transform="translate(93.60,298.20) scale(1.055,1)" font-size="18.6" text-anchor="end" fill="#000">1</text>
<text transform="translate(93.60,262.04) scale(1.055,1)" font-size="18.6" text-anchor="end" fill="#000">1.1</text>
<text transform="translate(93.60,225.89) scale(1.055,1)" font-size="18.6" text-anchor="end" fill="#000">1.2</text>
<text transform="translate(93.60,189.73) scale(1.055,1)" font-size="18.6" text-anchor="end" fill="#000">1.3</text>
<text transform="translate(93.60,153.58) scale(1.055,1)" font-size="18.6" text-anchor="end" fill="#000">1.4</text>
<text transform="translate(93.60,685.30) scale(1.055,1)" font-size="18.6" text-anchor="end" fill="#000">0.7</text>
<text transform="translate(741.80,685.30) scale(1.055,1)" font-size="18.6" text-anchor="start" fill="#000">0.7</text>
<text transform="translate(93.60,650.78) scale(1.055,1)" font-size="18.6" text-anchor="end" fill="#000">0.8</text>
<text transform="translate(741.80,650.78) scale(1.055,1)" font-size="18.6" text-anchor="start" fill="#000">0.8</text>
<text transform="translate(93.60,616.25) scale(1.055,1)" font-size="18.6" text-anchor="end" fill="#000">0.9</text>
<text transform="translate(741.80,616.25) scale(1.055,1)" font-size="18.6" text-anchor="start" fill="#000">0.9</text>
<text transform="translate(93.60,581.73) scale(1.055,1)" font-size="18.6" text-anchor="end" fill="#000">1</text>
<text transform="translate(741.80,581.73) scale(1.055,1)" font-size="18.6" text-anchor="start" fill="#000">1</text>
<text transform="translate(93.60,547.21) scale(1.055,1)" font-size="18.6" text-anchor="end" fill="#000">1.1</text>
<text transform="translate(741.80,547.21) scale(1.055,1)" font-size="18.6" text-anchor="start" fill="#000">1.1</text>
<text transform="translate(93.60,512.68) scale(1.055,1)" font-size="18.6" text-anchor="end" fill="#000">1.2</text>
<text transform="translate(741.80,512.68) scale(1.055,1)" font-size="18.6" text-anchor="start" fill="#000">1.2</text>
<text transform="translate(93.60,478.16) scale(1.055,1)" font-size="18.6" text-anchor="end" fill="#000">1.3</text>
<text transform="translate(741.80,478.16) scale(1.055,1)" font-size="18.6" text-anchor="start" fill="#000">1.3</text>
<text transform="translate(741.80,137.00) scale(1.055,1)" font-size="18.6" text-anchor="start" fill="#000">10<tspan font-size="14.88" dy="-9.2">2</tspan></text>
<text transform="translate(741.80,187.10) scale(1.055,1)" font-size="18.6" text-anchor="start" fill="#000">10<tspan font-size="14.88" dy="-9.2">0</tspan></text>
<text transform="translate(741.80,237.20) scale(1.055,1)" font-size="18.6" text-anchor="start" fill="#000">10<tspan font-size="14.88" dy="-9.2">-2</tspan></text>
<text transform="translate(741.80,287.30) scale(1.055,1)" font-size="18.6" text-anchor="start" fill="#000">10<tspan font-size="14.88" dy="-9.2">-4</tspan></text>
<text transform="translate(741.80,337.40) scale(1.055,1)" font-size="18.6" text-anchor="start" fill="#000">10<tspan font-size="14.88" dy="-9.2">-6</tspan></text>
<text transform="translate(741.80,387.50) scale(1.055,1)" font-size="18.6" text-anchor="start" fill="#000">10<tspan font-size="14.88" dy="-9.2">-8</tspan></text>
<text transform="translate(741.80,437.60) scale(1.055,1)" font-size="18.6" text-anchor="start" fill="#000">10<tspan font-size="14.88" dy="-9.2">-10</tspan></text>
<text transform="translate(136.10,168.30) scale(1.055,1)" font-size="18.6" text-anchor="start" fill="#000">EPS09 LO</text>
<text transform="translate(397.30,483.30) scale(1.055,1)" font-size="18.6" text-anchor="end" fill="#000">RHIC</text>
<text transform="translate(450.20,151.60) scale(1.055,1)" font-size="18.6" text-anchor="start" fill="#000">LHC</text>
<text transform="translate(450.20,483.30) scale(1.055,1)" font-size="18.6" text-anchor="start" fill="#000">LHC</text>
<text transform="translate(638.20,153.70) scale(1.055,1)" font-size="18.6" text-anchor="end" fill="#000">pPb</text>
<text transform="translate(638.20,172.60) scale(1.055,1)" font-size="18.6" text-anchor="end" fill="#000">pp</text>
<text transform="translate(464.20,428.00) scale(1.055,1)" font-size="15.9" text-anchor="start" fill="#000">|y|&lt;0.5</text>
<text transform="translate(135.70,661.50) scale(1.055,1)" font-size="15.9" text-anchor="start" fill="#000">|y|&lt;0.35</text>
<text transform="translate(582.80,503.00) scale(0.968,1)" font-size="15.9" text-anchor="start" fill="#000">N<tspan font-size="12.72" dy="4.7">events</tspan><tspan dy="-4.7">=1000</tspan></text>
<text transform="translate(258.50,90.60) scale(1.055,1)" font-size="29.0" text-anchor="middle" fill="#000">x</text>
<text transform="translate(582.30,85.90) scale(1.055,1)" font-size="29.0" text-anchor="middle" fill="#000">p<tspan font-size="22.62" dy="10">T</tspan><tspan dy="-10"> (GeV)</tspan></text>
<text transform="translate(258.40,734.20) scale(1.055,1)" font-size="29.0" text-anchor="middle" fill="#000">p<tspan font-size="22.62" dy="10">T</tspan><tspan dy="-10"> (GeV)</tspan></text>
<text transform="translate(582.30,734.20) scale(1.055,1)" font-size="29.0" text-anchor="middle" fill="#000">p<tspan font-size="22.62" dy="10">T</tspan><tspan dy="-10"> (GeV)</tspan></text>
<text transform="translate(47.30,292.20) scale(1.055,1) rotate(-90)" font-size="28.0" text-anchor="middle" fill="#000">R<tspan font-size="22.4" dy="7">u</tspan><tspan font-size="22.4" dy="-22">Au</tspan><tspan dy="15">(x,Q</tspan><tspan font-size="22.4" dy="-15">2</tspan><tspan dy="15">=100GeV</tspan><tspan font-size="22.4" dy="-15">2</tspan><tspan dy="15">)</tspan></text>
<text transform="translate(49.20,566.30) scale(1.055,1) rotate(-90)" font-size="28.0" text-anchor="middle" fill="#000">R<tspan font-size="22.4" dy="-14" dx="0.6">π</tspan><tspan font-size="17.9" dy="-10" dx="0.6">0</tspan><tspan font-size="22.4" dy="32" dx="0.6">pAu</tspan></text>
<text transform="translate(810.40,566.50) scale(1.055,1) rotate(-90)" font-size="28.0" text-anchor="middle" fill="#000">R<tspan font-size="22.4" dy="-14" dx="0.6">π</tspan><tspan font-size="17.9" dy="-10" dx="0.6">0</tspan><tspan font-size="22.4" dy="32" dx="0.6">pPb</tspan></text>
<text transform="translate(820.00,291.10) scale(1.055,1) rotate(-90)" font-size="28.0" text-anchor="middle" fill="#000">dσ/dp<tspan font-size="22.4" dy="7">T</tspan><tspan font-size="22.4" dy="-22">2</tspan><tspan dy="15">dy (mb GeV</tspan><tspan font-size="22.4" dy="-15" dx="0.7">-2</tspan><tspan dy="15" dx="0.7">)</tspan></text>
</svg>
</body></html>
